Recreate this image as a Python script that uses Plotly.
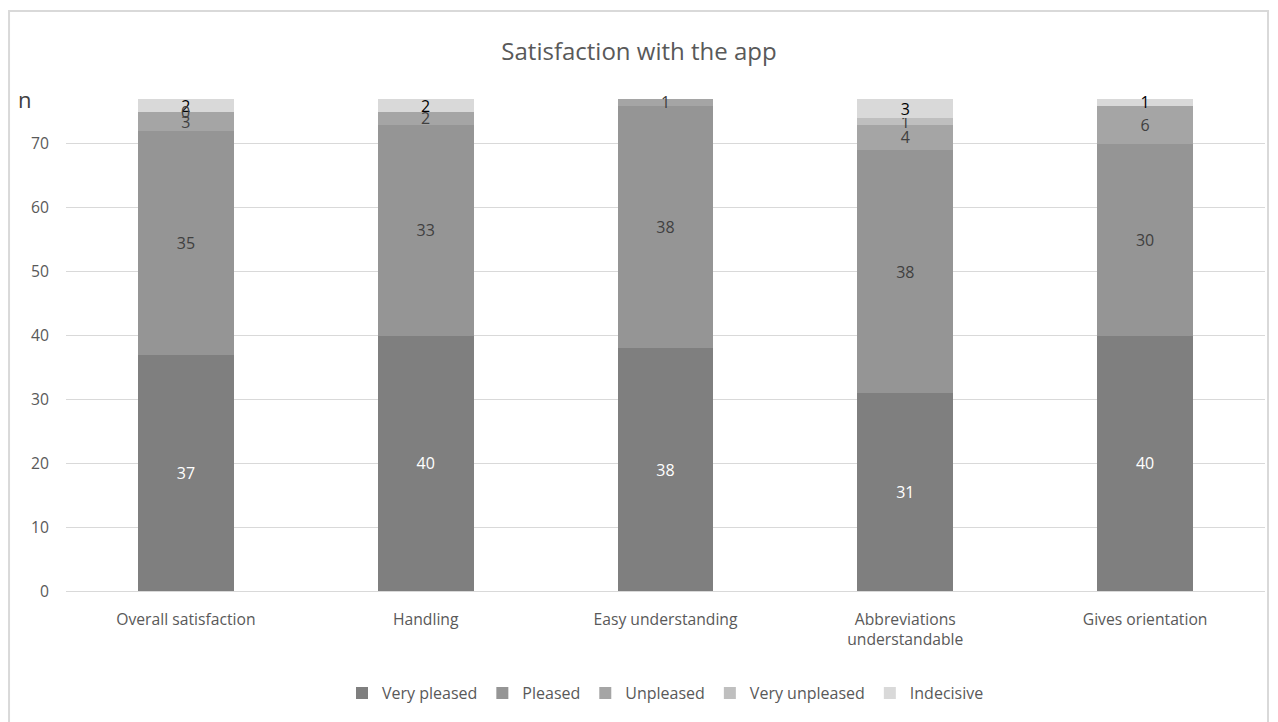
import plotly.graph_objects as go

categories = ["Overall satisfaction", "Handling", "Easy understanding",
              "Abbreviations<br>understandable", "Gives orientation"]
very_pleased = [37, 40, 38, 31, 40]
pleased = [35, 33, 38, 38, 30]
unpleased = [3, 2, 1, 4, 6]
very_unpleased = [0, 0, 0, 1, 0]
indecisive = [2, 2, 0, 3, 1]

very_pleased_labels = ["37", "40", "38", "31", "40"]
pleased_labels = ["35", "33", "38", "38", "30"]
unpleased_labels = ["3", "2", "1", "4", "6"]
very_unpleased_labels = ["0", "", "", "1", ""]
indecisive_labels = ["2", "2", "", "3", "1"]

series = [
    ("Very pleased", very_pleased, very_pleased_labels, "#7f7f7f", "white"),
    ("Pleased", pleased, pleased_labels, "#959595", "#404040"),
    ("Unpleased", unpleased, unpleased_labels, "#a5a5a5", "#404040"),
    ("Very unpleased", very_unpleased, very_unpleased_labels, "#bfbfbf", "#404040"),
    ("Indecisive", indecisive, indecisive_labels, "#d9d9d9", "#000000"),
]

font_family = "Open Sans, Liberation Sans, sans-serif"

fig = go.Figure()
cum = [0] * len(categories)
for name, vals, labels, color, tcolor in series:
    size = 17 if name == "Indecisive" else 16
    fig.add_trace(go.Bar(
        name=name, x=categories, y=vals, marker=dict(color=color, line=dict(width=0)),
        text=labels, texttemplate="%{text}", textposition="inside", insidetextanchor="middle",
        textangle=0, constraintext="none",
        textfont=dict(color=tcolor, size=size, family=font_family),
        cliponaxis=False,
    ))
    # zero-height segments: plotly draws no text, so place their label at the stack position
    for i, (v, lab) in enumerate(zip(vals, labels)):
        if v == 0 and lab:
            fig.add_annotation(x=categories[i], y=cum[i], text=lab, showarrow=False,
                               xref="x", yref="y", yanchor="middle",
                               font=dict(color=tcolor, size=size, family=font_family))
    cum = [c + v for c, v in zip(cum, vals)]

fig.update_layout(
    barmode="stack",
    bargap=0.6,
    width=1278, height=722,
    margin=dict(l=66, r=13, t=80, b=131),
    paper_bgcolor="white", plot_bgcolor="white",
    font=dict(family=font_family, color="#595959", size=16),
    title=dict(text="Satisfaction with the app", x=0.5, xanchor="center", y=0.928, yanchor="middle",
               font=dict(size=24, color="#595959", family=font_family)),
    uniformtext=dict(minsize=8, mode="show"),
    legend=dict(orientation="h", x=0.5, xanchor="center", y=-0.2, yanchor="middle",
                font=dict(size=16, color="#595959"), itemwidth=30, traceorder="normal"),
    xaxis=dict(showline=True, linecolor="#d9d9d9", linewidth=1, ticks="",
               tickfont=dict(size=15.7, color="#595959"), ticklabelstandoff=14),
    yaxis=dict(range=[0, 80], tickvals=[0, 10, 20, 30, 40, 50, 60, 70],
               showgrid=True, gridcolor="#d9d9d9", gridwidth=1, zeroline=False,
               tickfont=dict(size=15.7, color="#595959"), ticks="", ticklen=0,
               ticklabelstandoff=16),
    showlegend=True,
)

fig.add_annotation(text="n", xref="paper", yref="y", x=-0.034, y=77, showarrow=False,
                   font=dict(size=22, color="#404040", family=font_family), xanchor="center", yanchor="middle")

fig.add_shape(type="rect", xref="paper", yref="paper", x0=-0.0475, x1=1.0025, y0=-0.26, y1=1.135,
              line=dict(color="#d9d9d9", width=2), fillcolor="rgba(0,0,0,0)", layer="below")

fig.write_html("out.html")
